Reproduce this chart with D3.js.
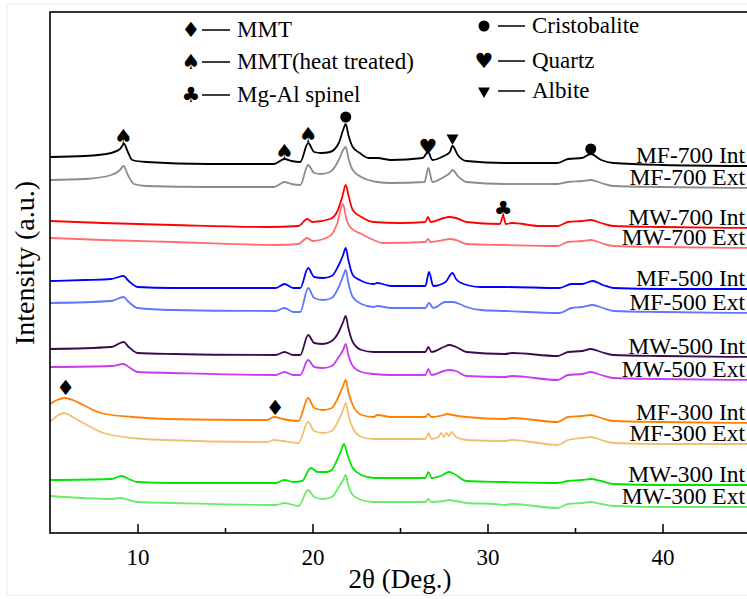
<!doctype html>
<html lang="en">
<head>
    <meta charset="UTF-8">
    <title>XRD patterns</title>
    <script src="https://d3js.org/d3.v7.min.js" charset="utf-8"></script>
    <style>
        body { margin: 0; background: #fff; }
    </style>
</head>
<body>
    <script>
        // 2theta (deg) vs intensity (a.u., stacked)
        var seriesNames = ["MF-700 Int", "MF-700 Ext", "MW-700 Int", "MW-700 Ext",
                           "MF-500 Int", "MF-500 Ext", "MW-500 Int", "MW-500 Ext",
                           "MF-300 Int", "MF-300 Ext", "MW-300 Int", "MW-300 Ext"];
        var seriesColors = ["#000000", "#8c8c8c", "#ff0000", "#ff6e6e",
                            "#0000ff", "#5b78ff", "#3c0a50", "#c83cf0",
                            "#ff7f00", "#f0c070", "#00e600", "#6aec6a"];

        var mf700Int = [[5,376],[7,377],[8.5,380],[9.0,384],[9.23,389],[9.45,381],[9.7,373],[10.5,371],[14,369],[17.8,369],[18.4,374],[18.8,372],[19.3,371],[19.75,390],[20.1,381],[20.5,380],[21.0,381],[21.5,390],[21.75,403],[21.9,409],[22.05,398],[22.3,386],[22.7,380],[23.2,375],[23.7,375],[24.5,373],[26.3,375],[26.6,381],[26.85,373],[27.5,377],[27.85,381],[28.0,387],[28.3,378],[28.8,372],[31,370],[34,370],[34.6,374],[35.4,375],[35.9,379],[36.5,373],[37.2,370],[40,368],[45,367]];
        var mf700Ext = [[5,353],[7,354],[8.5,358],[9.0,363],[9.2,367],[9.45,358],[9.8,349],[10.5,347],[14,346],[17.8,346],[18.4,351],[18.8,349],[19.3,348],[19.75,368],[20.1,360],[20.5,359],[21.0,361],[21.5,373],[21.75,383],[21.9,386],[22.05,375],[22.3,363],[22.8,356],[23.7,351],[24.5,350],[26.4,351],[26.62,365],[26.85,351],[27.5,356],[27.85,360],[28.0,363],[28.3,357],[28.8,351],[31,349],[34,349],[34.6,351],[35.4,352],[35.9,353],[36.5,350],[37.2,347],[40,346],[45,345]];
        var mw700Int = [[5,312],[8,310],[12,308],[17.4,306],[19.2,307],[19.7,314],[20.0,311],[21.0,314],[21.4,321],[21.7,336],[21.9,348],[22.05,338],[22.3,323],[22.8,316],[23.5,311],[25,310],[26.45,311],[26.6,316],[26.75,311],[27.5,315],[27.8,316],[28.2,315],[28.8,311],[30.7,309],[30.9,317],[31.05,309],[31.4,310],[33,307],[34,307],[34.6,311],[35.4,312],[35.9,313],[36.5,310],[37.2,307],[40,306],[45,305]];
        var mw700Ext = [[5,295],[8,293],[12,291],[18,288],[19.2,289],[19.7,295],[20.0,292],[21.0,297],[21.4,309],[21.74,329],[21.95,313],[22.2,305],[22.8,299],[23.5,293],[24,290],[26.45,291],[26.6,294],[26.75,291],[27.5,293],[27.8,294],[28.2,293],[28.8,289],[31,288],[34,287],[34.6,291],[35.4,292],[35.9,293],[36.5,290],[37.2,287],[40,286],[45,285]];
        var mf500Int = [[5,252],[7,253],[8.5,254],[9.2,257],[9.5,252],[10,246],[12,245],[17.9,245],[18.4,249],[18.9,245],[19.3,245],[19.75,265],[20.1,256],[20.6,255],[21.1,257],[21.5,268],[21.75,278],[21.9,285],[22.05,273],[22.3,258],[22.7,253],[23.5,249],[23.7,250],[24.5,247],[26.45,247],[26.66,261],[26.9,247],[27.6,251],[28.0,260],[28.2,254],[28.5,250],[29.6,246],[31,246],[34.1,245],[34.8,249],[35.4,249],[36.0,252],[36.6,248],[37.2,245],[40,244],[45,244]];
        var mf500Ext = [[5,230],[8.5,232],[9.2,236],[9.5,231],[10,225],[12,223],[17.9,222],[18.4,225],[18.9,221],[19.3,221],[19.75,245],[20.1,235],[20.6,233],[21.1,235],[21.5,246],[21.75,257],[21.9,263],[22.05,250],[22.3,236],[22.8,229],[23.5,226],[23.7,227],[24.5,225],[26.45,225],[26.66,230],[26.9,225],[27.6,231],[28.0,231],[28.4,229],[28.8,226],[29.6,223],[31,222],[34.1,220],[34.8,225],[35.4,226],[36.0,228],[36.6,225],[37.2,222],[40,221],[45,220]];
        var mw500Int = [[5,184],[8.5,186],[9.2,191],[9.5,186],[10,180],[12,179],[17.9,178],[18.4,181],[18.9,178],[19.3,178],[19.75,198],[20.1,190],[20.6,189],[21.1,192],[21.5,201],[21.75,211],[21.9,217],[22.05,205],[22.3,191],[22.8,183],[23.5,181],[24.5,181],[26.45,181],[26.62,186],[26.8,181],[27.5,186],[27.8,188],[28.2,186],[28.8,181],[31,179],[31.4,180],[34,177],[34.6,181],[35.4,182],[35.9,184],[36.5,181],[37.2,178],[40,177],[45,176]];
        var mw500Ext = [[5,166],[8.5,167],[9.2,169],[9.5,166],[10,161],[12,160],[17.9,158],[18.4,161],[18.9,158],[19.3,158],[19.75,173],[20.1,166],[20.6,165],[21.1,167],[21.5,176],[21.75,183],[21.9,189],[22.05,178],[22.3,167],[22.8,161],[23.5,159],[24.5,158],[26.45,158],[26.62,164],[26.8,158],[27.5,162],[27.8,163],[28.2,162],[28.8,157],[31,156],[31.4,157],[34,153],[34.6,158],[35.4,159],[35.9,161],[36.5,158],[37.2,155],[40,154],[45,153]];
        var mf300Int = [[5,129],[5.4,133],[5.86,135],[6.3,133],[6.9,128],[7.9,120],[9.7,116],[11.7,114],[17.4,113],[17.8,116],[18.3,114],[19.2,112],[19.75,135],[20.1,125],[20.6,123],[21.1,125],[21.5,137],[21.75,147],[21.9,153],[22.05,141],[22.3,128],[22.8,118],[23.5,116],[23.7,118],[24.5,116],[26.45,116],[26.62,119],[26.8,116],[27.5,118],[27.7,119],[28.0,118],[28.8,116],[31,114],[31.4,115],[34,111],[34.6,116],[35.4,117],[35.9,118],[36.5,115],[37.2,112],[40,111],[45,110]];
        var mf300Ext = [[5,111],[5.4,117],[5.8,120],[6.3,116],[6.9,110],[7.9,101],[9.7,95],[11.7,93],[17.4,91],[17.8,93],[18.3,92],[19.2,90],[19.75,111],[20.1,102],[20.6,100],[21.1,102],[21.5,113],[21.75,123],[21.9,130],[22.05,118],[22.3,105],[22.8,96],[23.5,94],[24.5,94],[26.45,94],[26.62,100],[26.8,94],[27.2,96],[27.35,100],[27.5,96],[27.65,100],[27.8,97],[27.95,101],[28.2,96],[28.8,93],[31,92],[31.4,93],[34,88],[34.6,93],[35.4,95],[35.9,96],[36.5,93],[37.2,90],[40,89],[45,89]];
        var mw300Int = [[5,53],[8.5,54],[9.1,57],[9.5,54],[10,51],[12,50],[17.9,50],[18.4,53],[18.9,51],[19.4,52],[19.9,65],[20.3,61],[20.8,61],[21.1,63],[21.4,73],[21.65,83],[21.8,89],[22.0,78],[22.3,65],[22.8,58],[23.5,55],[24.5,55],[26.45,55],[26.62,61],[26.8,55],[27.3,57],[27.8,61],[28.1,59],[28.8,52],[31,51],[34,50],[34.6,52],[35.4,53],[35.9,54],[36.5,52],[37.2,49],[40,48],[45,48]];
        var mw300Ext = [[5,37],[8.5,34],[9.0,35],[9.5,33],[10,31],[12,30],[17.9,28],[18.4,30],[19.2,27],[19.75,43],[20.1,36],[20.6,34],[21.1,36],[21.5,46],[21.75,53],[21.9,58],[22.05,47],[22.3,38],[22.8,33],[23.5,31],[24.5,31],[26.45,31],[26.62,34],[26.8,31],[27.5,32],[27.8,33],[28.2,32],[28.8,30],[30.4,29],[31,28],[31.4,29],[34,25],[34.6,29],[35.4,30],[35.9,31],[36.5,29],[37.2,27],[40,26],[45,26]];

        var seriesData = [mf700Int, mf700Ext, mw700Int, mw700Ext, mf500Int, mf500Ext,
                          mw500Int, mw500Ext, mf300Int, mf300Ext, mw300Int, mw300Ext];

        var majorTicks = [10, 20, 30, 40];
        var minorTicks = [15, 25, 35];

        // phase markers on the peaks
        var markerX = [9.2, 18.4, 19.75, 21.9, 26.6, 28.0, 35.9, 30.9, 5.9, 17.86];
        var markerY = [396, 381, 398, 416, 386, 395, 384, 324, 145, 125];
        var markerType = ["spade", "spade", "spade", "circle", "heart", "triangle", "circle", "club", "diamond", "diamond"];

        var legendLeftNames = ["MMT", "MMT(heat treated)", "Mg-Al spinel"];
        var legendLeftTypes = ["diamond", "spade", "club"];
        var legendRightNames = ["Cristobalite", "Quartz", "Albite"];
        var legendRightTypes = ["circle", "heart", "triangle"];

        var serif = "'Liberation Serif', 'Times New Roman', serif";
        var width = 747,
            height = 599,
            padL = 50, padT = 12, padB = 533;

        var svg = d3.select("body").append("svg")
            .attr("width", width)
            .attr("height", height)
            .style("font-family", serif);

        svg.append("rect")
            .attr("x", 7).attr("y", 4)
            .attr("width", 800).attr("height", 591)
            .attr("fill", "#fff")
            .attr("stroke", "#ececec");

        var x = d3.scaleLinear().domain([5, 45]).range([padL, 750]);
        var y = d3.scaleLinear().domain([0, 521]).range([padB, padT]);

        var line = d3.line()
            .x(function(d){ return x(d[0]); })
            .y(function(d){ return y(d[1]); })
            .curve(d3.curveMonotoneX);

        svg.selectAll("path.series")
            .data(seriesData)
            .enter()
            .append("path")
            .attr("class", "series")
            .attr("d", line)
            .attr("fill", "none")
            .attr("stroke", function(d, i){ return seriesColors[i]; })
            .attr("stroke-width", 1.8)
            .attr("stroke-linejoin", "round");

        // labels sit just above the right end of each curve
        svg.selectAll("text.label")
            .data(seriesData)
            .enter()
            .append("text")
            .attr("class", "label")
            .attr("x", 745)
            .attr("y", function(d){ return y(d[d.length - 1][1]) - 3; })
            .attr("text-anchor", "end")
            .style("font-family", serif)
            .attr("font-size", 23.5)
            .text(function(d, i){ return seriesNames[i]; });

        var glyphs = { spade: "\u2660", heart: "\u2665", club: "\u2663", diamond: "\u2666" };

        function drawMarker(g, type, cx, cy) {
            if (type === "circle") {
                g.append("path")
                    .attr("d", d3.symbol(d3.symbolCircle, 95)())
                    .attr("transform", "translate(" + cx + "," + cy + ")");
            } else if (type === "triangle") {
                g.append("path")
                    .attr("d", d3.symbol(d3.symbolTriangle, 62)())
                    .attr("transform", "translate(" + cx + "," + cy + ") rotate(180)");
            } else {
                g.append("text")
                    .attr("x", cx).attr("y", cy)
                    .attr("text-anchor", "middle")
                    .attr("dominant-baseline", "central")
                    .style("font-family", "'DejaVu Sans', sans-serif")
                    .attr("font-size", 21)
                    .text(glyphs[type]);
            }
        }

        var markers = svg.append("g").attr("fill", "#000");
        markerX.forEach(function(d, i){
            drawMarker(markers, markerType[i], x(d), y(markerY[i]));
        });

        // legend
        var legend = svg.append("g").attr("fill", "#000");
        var rowY = [30, 62, 95], rowYR = [26, 61, 91];
        legendLeftNames.forEach(function(d, i){
            drawMarker(legend, legendLeftTypes[i], 191, rowY[i]);
            legend.append("line").attr("x1", 202).attr("x2", 230)
                .attr("y1", rowY[i]).attr("y2", rowY[i])
                .attr("stroke", "#000").attr("stroke-width", 1.5);
            legend.append("text").attr("x", 237).attr("y", rowY[i] + 7)
                .style("font-family", serif)
                .attr("font-size", 23).text(d);
        });
        legendRightNames.forEach(function(d, i){
            drawMarker(legend, legendRightTypes[i], 484, rowYR[i]);
            legend.append("line").attr("x1", 498).attr("x2", 525)
                .attr("y1", rowYR[i]).attr("y2", rowYR[i])
                .attr("stroke", "#000").attr("stroke-width", 1.5);
            legend.append("text").attr("x", 532).attr("y", rowYR[i] + 7)
                .style("font-family", serif)
                .attr("font-size", 23).text(d);
        });

        // axes
        var xAxis = svg.append("g")
            .attr("transform", "translate(0," + padB + ")")
            .call(d3.axisBottom(x).tickValues(majorTicks).tickSize(-9).tickSizeOuter(0).tickPadding(16));
        xAxis.select(".domain").remove();
        xAxis.selectAll("text").attr("font-size", 23).attr("fill", "#000")
            .style("font-family", serif);
        xAxis.selectAll("line").attr("stroke-width", 1.5);

        var xMinor = svg.append("g")
            .attr("transform", "translate(0," + padB + ")")
            .call(d3.axisBottom(x).tickValues(minorTicks).tickSize(-5).tickFormat(""));
        xMinor.select(".domain").remove();
        xMinor.selectAll("line").attr("stroke-width", 1.5);

        svg.append("rect")
            .attr("x", padL).attr("y", padT)
            .attr("width", 760).attr("height", padB - padT)
            .attr("fill", "none")
            .attr("stroke", "#000")
            .attr("stroke-width", 1.6);

        svg.append("text")
            .attr("x", 400).attr("y", 588)
            .attr("text-anchor", "middle")
            .style("font-family", serif)
            .attr("font-size", 27)
            .text("2\u03b8 (Deg.)");

        svg.append("text")
            .attr("transform", "translate(34,263) rotate(-90)")
            .attr("text-anchor", "middle")
            .style("font-family", serif)
            .attr("font-size", 28)
            .text("Intensity (a.u.)");
    </script>
</body>
</html>
